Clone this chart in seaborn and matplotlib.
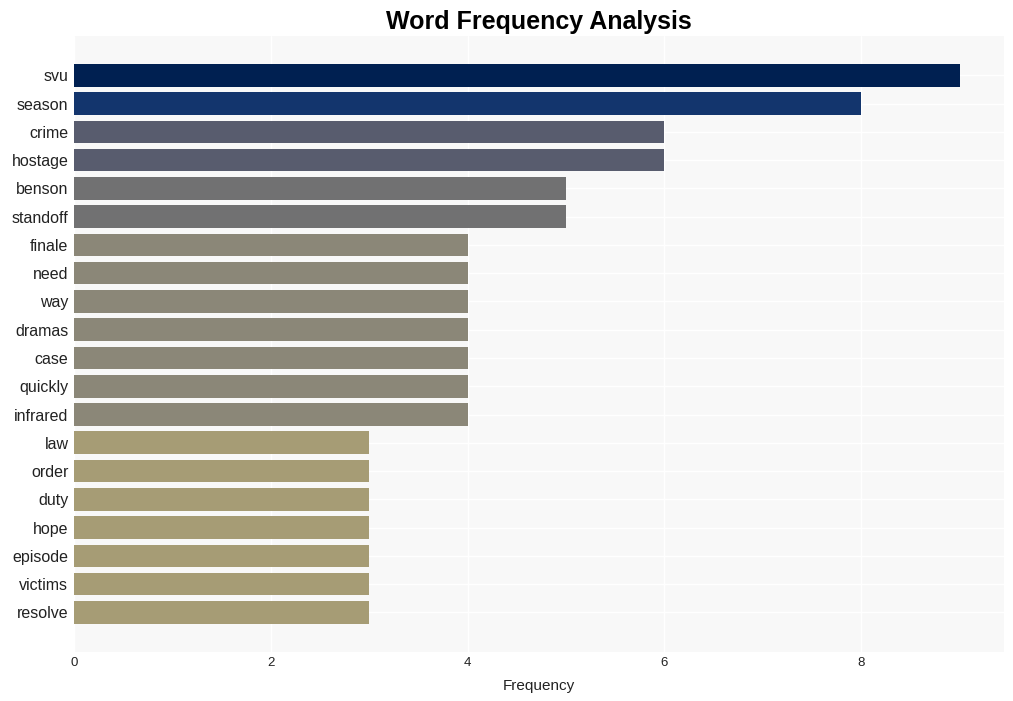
import matplotlib
matplotlib.use('Agg')
import matplotlib.pyplot as plt
import seaborn as sns
import pandas as pd

# --- Data ---
words = ['svu', 'season', 'crime', 'hostage', 'benson', 'standoff', 'finale',
         'need', 'way', 'dramas', 'case', 'quickly', 'infrared', 'law', 'order',
         'duty', 'hope', 'episode', 'victims', 'resolve']
counts = [9, 8, 6, 6, 5, 5, 4, 4, 4, 4, 4, 4, 4, 3, 3, 3, 3, 3, 3, 3]
bar_colors = ['#002051', '#13356d', '#585c6e', '#585c6e', '#717172', '#717172',
              '#8b8778', '#8b8778', '#8b8778', '#8b8778', '#8b8778', '#8b8778',
              '#8b8778', '#a69c75', '#a69c75', '#a69c75', '#a69c75', '#a69c75',
              '#a69c75', '#a69c75']

df = pd.DataFrame({'word': words, 'count': counts})

sns.set_theme(style="whitegrid")
plt.rcParams['font.family'] = ['Liberation Sans', 'DejaVu Sans']

fig, ax = plt.subplots(figsize=(10.13, 7.01), dpi=100)
ax.set_facecolor('#f8f8f8')

sns.barplot(data=df, x='count', y='word', hue='word', palette=bar_colors,
            legend=False, width=0.8, ax=ax, saturation=1, linewidth=0)

ax.set_xlim(0, max(counts) * 1.05)
ax.set_ylim(len(words) - 1 + 1.4, -1.4)
ax.grid(True, color='white', linewidth=1)
for s in ax.spines.values():
    s.set_visible(False)

ax.set_title('Word Frequency Analysis', fontsize=18, fontweight='bold',
             color='black', pad=5)
ax.set_xlabel('Frequency', fontsize=11, color='#222222', labelpad=7)
ax.set_ylabel('')
ax.tick_params(axis='y', labelsize=11.5, pad=4, length=0, labelcolor='#222222')
ax.tick_params(axis='x', labelsize=9.5, length=0, labelcolor='#222222')

plt.subplots_adjust(left=0.073, right=0.991, top=0.949, bottom=0.07)
plt.savefig('out.png')
